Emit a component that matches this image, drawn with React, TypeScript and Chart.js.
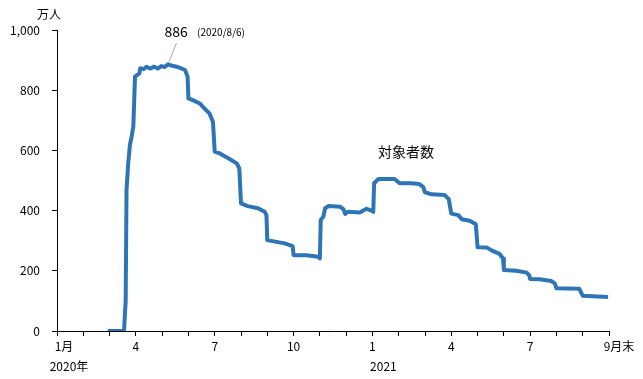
import React, { useEffect, useRef } from "react";
import { Chart, registerables } from "chart.js";

Chart.register(...registerables);

const FONT = '"Noto Sans CJK JP", "Noto Sans", sans-serif';

// Series: date of observation and number of people (万人)
const dates = [
  "2020-02-28", "2020-03-18", "2020-03-20", "2020-03-21", "2020-03-23", "2020-03-25", "2020-03-27", "2020-03-29", "2020-03-31",
  "2020-04-05", "2020-04-06", "2020-04-10", "2020-04-13", "2020-04-17", "2020-04-22", "2020-04-26", "2020-04-30", "2020-05-04", "2020-05-08", "2020-05-12", "2020-05-18", "2020-05-23", "2020-05-28", "2020-05-31",
  "2020-06-01", "2020-06-06", "2020-06-14", "2020-06-19", "2020-06-25", "2020-06-29",
  "2020-07-01", "2020-07-07", "2020-07-17", "2020-07-27", "2020-07-30",
  "2020-08-01", "2020-08-09", "2020-08-21", "2020-08-29", "2020-08-31",
  "2020-09-01", "2020-09-10", "2020-09-21", "2020-09-30",
  "2020-10-01", "2020-10-16", "2020-10-30",
  "2020-11-01", "2020-11-02", "2020-11-05", "2020-11-07", "2020-11-11", "2020-11-24", "2020-11-28", "2020-11-30",
  "2020-12-03", "2020-12-17", "2020-12-25", "2020-12-31",
  "2021-01-02", "2021-01-03", "2021-01-08", "2021-01-27",
  "2021-02-02", "2021-02-14", "2021-02-23", "2021-02-27",
  "2021-03-01", "2021-03-09", "2021-03-24", "2021-03-29",
  "2021-04-01", "2021-04-09", "2021-04-13", "2021-04-22", "2021-04-29",
  "2021-05-01", "2021-05-12", "2021-05-18", "2021-05-27", "2021-05-31",
  "2021-06-01", "2021-06-15", "2021-06-27", "2021-06-30",
  "2021-07-01", "2021-07-12", "2021-07-26", "2021-07-30",
  "2021-08-01", "2021-08-28",
  "2021-09-01", "2021-09-30",
];

const values = [
  0, 0, 100, 470, 557, 618, 646, 679, 845,
  856, 873, 870, 878, 872, 878, 872, 880, 877, 886, 882, 878, 873, 867, 845,
  773, 767, 756, 740, 723, 695,
  596, 590, 574, 557, 540,
  424, 415, 408, 396, 385,
  302, 297, 291, 282,
  252, 252, 247,
  241, 369, 380, 408, 415, 413, 404, 389,
  396, 394, 406, 400,
  396, 491, 505, 505,
  491, 491, 488, 479,
  461, 454, 452, 438,
  390, 385, 371, 366, 355,
  278, 277, 267, 256, 241,
  203, 200, 194, 185,
  173, 172, 166, 158,
  142, 140,
  117, 113,
];

// Axis labels (x positions in months since Jan 2020)
const monthLabelPositions = [0, 3, 6, 9, 12, 15, 18, 21];
const monthLabels = ["1月", "4", "7", "10", "1", "4", "7", "9月末"];
const yearLabelPositions = [0, 12];
const yearLabels = ["2020年", "2021"];
const yUnitLabel = "万人";
const peakValueLabel = "886";
const peakDateLabel = "(2020/8/6)";
const seriesLabel = "対象者数";
const seriesLabelPos = { x: 13.28, y: 595 };

// styling offsets for labels
const monthLabelDx = [7, 0, 0, 0, 0, 0, 0, 10];
const yearLabelDx = [12, 11];

function toMonth(s: string): number {
  const [y, m, d] = s.split("-").map(Number);
  const dim = new Date(y, m, 0).getDate();
  return (y - 2020) * 12 + (m - 1) + (d - 1) / dim;
}

const labelPlugin = {
  id: "customLabels",
  afterDraw(chart: any) {
    const { ctx } = chart;
    const x = chart.scales.x;
    const y = chart.scales.y;
    ctx.save();
    ctx.fillStyle = "#000";
    ctx.textAlign = "center";
    ctx.textBaseline = "middle";
    ctx.font = `12px ${FONT}`;
    monthLabelPositions.forEach((v, i) => {
      ctx.fillText(monthLabels[i], x.getPixelForValue(v) + monthLabelDx[i], y.bottom + 15);
    });
    yearLabelPositions.forEach((v, i) => {
      ctx.fillText(yearLabels[i], x.getPixelForValue(v) + yearLabelDx[i], y.bottom + 35);
    });
    ctx.fillText(yUnitLabel, x.left - 8, y.top - 16);

    // peak annotation
    let mi = 0;
    values.forEach((v, i) => {
      if (v > values[mi]) mi = i;
    });
    const px = x.getPixelForValue(toMonth(dates[mi]));
    const py = y.getPixelForValue(values[mi]);
    ctx.strokeStyle = "#a6a6a6";
    ctx.lineWidth = 1;
    ctx.beginPath();
    ctx.moveTo(px + 1, py - 3);
    ctx.lineTo(px + 8.5, py - 21.5);
    ctx.stroke();
    ctx.font = `14px ${FONT}`;
    ctx.fillText(peakValueLabel, px + 8, y.top + 2);
    ctx.font = `10px ${FONT}`;
    ctx.textAlign = "left";
    ctx.fillText(peakDateLabel, px + 29, y.top + 2);

    ctx.textAlign = "center";
    ctx.font = `14px ${FONT}`;
    ctx.fillText(seriesLabel, x.getPixelForValue(seriesLabelPos.x), y.getPixelForValue(seriesLabelPos.y));
    ctx.restore();
  },
};

export default function App() {
  const ref = useRef<HTMLCanvasElement | null>(null);
  useEffect(() => {
    if (!ref.current) return;
    const points = dates.map((d, i) => ({ x: toMonth(d), y: values[i] }));
    const chart = new Chart(ref.current, {
      type: "line",
      data: {
        datasets: [
          {
            data: points,
            borderColor: "#2e75b6",
            borderWidth: 4,
            pointRadius: 0,
            tension: 0,
            borderJoinStyle: "round",
            borderCapStyle: "butt",
            fill: false,
          },
        ],
      },
      options: {
        responsive: false,
        animation: false,
        layout: { padding: { top: 30, right: 34, left: 0, bottom: 0 } },
        plugins: { legend: { display: false }, tooltip: { enabled: false } },
        scales: {
          x: {
            type: "linear",
            min: 0,
            max: 21,
            ticks: { display: false, stepSize: 1 },
            grid: { drawOnChartArea: false, tickLength: 5, color: "#000" },
            border: { color: "#000", width: 1 },
            afterFit(scale: any) {
              scale.height = 48;
              scale.paddingLeft = 0;
              scale.paddingRight = 0;
            },
          },
          y: {
            min: 0,
            max: 1000,
            ticks: {
              stepSize: 200,
              padding: 12,
              color: "#000",
              font: { family: FONT, size: 12 },
              callback: (v: any) => Number(v).toLocaleString("en-US"),
            },
            grid: { drawOnChartArea: false, tickLength: 5, color: "#000" },
            border: { color: "#000", width: 1 },
            afterFit(scale: any) {
              scale.width = 57;
            },
          },
        },
      },
      plugins: [labelPlugin],
    } as any);
    return () => chart.destroy();
  }, []);
  return (
    <div style={{ position: "fixed", left: 0, top: 0, width: 643, height: 379, background: "#fff" }}>
      <canvas ref={ref} width={643} height={379} style={{ display: "block" }} />
    </div>
  );
}
